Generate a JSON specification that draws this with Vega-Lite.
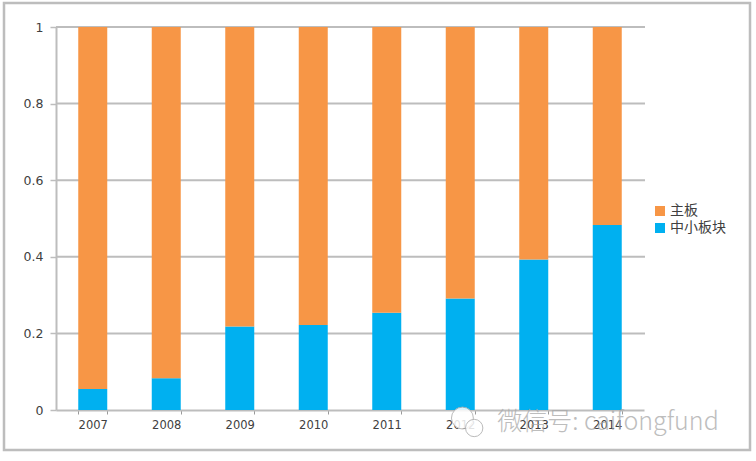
{"$schema":"https://vega.github.io/schema/vega-lite/v6.json","width":746,"height":447,"padding":{"left":4,"top":3,"right":6,"bottom":11},"autosize":{"type":"none"},"background":"white","config":{"view":{"stroke":"#BDBDBD","strokeWidth":2.5},"font":"Noto Sans CJK SC"},"datasets":{"shares":[{"year":"2007","board":"中小板块","order":1,"share":0.055},{"year":"2007","board":"主板","order":2,"share":0.945},{"year":"2008","board":"中小板块","order":1,"share":0.083},{"year":"2008","board":"主板","order":2,"share":0.917},{"year":"2009","board":"中小板块","order":1,"share":0.218},{"year":"2009","board":"主板","order":2,"share":0.782},{"year":"2010","board":"中小板块","order":1,"share":0.222},{"year":"2010","board":"主板","order":2,"share":0.778},{"year":"2011","board":"中小板块","order":1,"share":0.254},{"year":"2011","board":"主板","order":2,"share":0.746},{"year":"2012","board":"中小板块","order":1,"share":0.291},{"year":"2012","board":"主板","order":2,"share":0.709},{"year":"2013","board":"中小板块","order":1,"share":0.393},{"year":"2013","board":"主板","order":2,"share":0.607},{"year":"2014","board":"中小板块","order":1,"share":0.483},{"year":"2014","board":"主板","order":2,"share":0.517}],"grid":[{"g":0.2},{"g":0.4},{"g":0.6},{"g":0.8},{"g":1}],"mark":[{"label":"微信号: caifongfund"}]},"layer":[{"data":{"name":"grid"},"mark":{"type":"rule","color":"#BDBDBD","strokeWidth":2},"encoding":{"x":{"datum":0,"type":"quantitative","scale":{"domain":[0,1],"range":[52,641]},"axis":null},"x2":{"datum":1},"y":{"field":"g","type":"quantitative","scale":{"domain":[0,1],"range":[407,24],"nice":false},"axis":{"values":[0,0.2,0.4,0.6,0.8,1],"title":null,"grid":false,"offset":-52,"domainColor":"#BDBDBD","domainWidth":2,"tickColor":"#BDBDBD","tickWidth":1.5,"tickSize":6,"labelColor":"#404040","labelFont":"DejaVu Sans","labelFontSize":12.5,"labelPadding":7,"labelExpr":"datum.value"}}}},{"data":{"name":"shares"},"mark":{"type":"bar","width":29},"encoding":{"x":{"field":"year","type":"nominal","scale":{"range":[52,640],"paddingInner":0.6,"paddingOuter":0.3},"axis":{"title":null,"labelAngle":0,"offset":-40,"tickBand":"extent","domainColor":"#BDBDBD","domainWidth":2,"tickColor":"#9a9a9a","tickWidth":1,"tickSize":4,"labelColor":"#404040","labelFont":"DejaVu Sans","labelFontSize":11.5,"labelPadding":5}},"y":{"field":"share","type":"quantitative","stack":"zero"},"order":{"field":"order"},"color":{"field":"board","type":"nominal","sort":["主板","中小板块"],"scale":{"domain":["主板","中小板块"],"range":["#F79646","#00B0F0"]},"legend":{"title":null,"orient":"none","legendX":649,"legendY":201,"symbolType":"square","symbolSize":100,"symbolStrokeWidth":0,"symbolOpacity":1,"labelFontSize":14,"labelColor":"#404040","labelOffset":3,"rowPadding":3}}}},{"data":{"name":"mark"},"mark":{"type":"point","shape":"circle","filled":true,"fill":"white","stroke":"#B0B0B0","strokeWidth":1,"opacity":0.85,"size":480},"encoding":{"x":{"datum":0.69,"type":"quantitative","scale":{"domain":[0,1],"range":[52,641]},"axis":null},"y":{"datum":-0.021}}},{"data":{"name":"mark"},"mark":{"type":"point","shape":"circle","filled":true,"fill":"white","stroke":"#B0B0B0","strokeWidth":1,"opacity":0.85,"size":300},"encoding":{"x":{"datum":0.71,"type":"quantitative","scale":{"domain":[0,1],"range":[52,641]},"axis":null},"y":{"datum":-0.047}}},{"data":{"name":"mark"},"mark":{"type":"text","align":"left","baseline":"middle","fontSize":25,"fontWeight":300,"font":"Noto Sans CJK SC","color":"#A8A8A8","opacity":0.75,"clip":false},"encoding":{"text":{"field":"label"},"x":{"datum":0.749,"type":"quantitative","scale":{"domain":[0,1],"range":[52,641]},"axis":null},"y":{"datum":-0.031}}}],"resolve":{"scale":{"x":"independent","color":"independent"}}}
